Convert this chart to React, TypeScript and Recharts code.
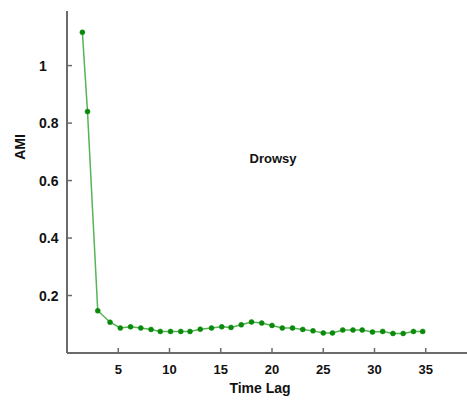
import React from "react";
import { LineChart, Line, XAxis, YAxis } from "recharts";

// time lag (spacing is a bit under 1)
const lags = [
  1.5, 2.0, 3.0, 4.2, 5.2, 6.2, 7.2, 8.2, 9.1, 10.1, 11.1, 12.0, 13.0, 14.1,
  15.1, 16.0, 17.0, 18.0, 19.0, 20.0, 21.0, 22.0, 23.0, 24.0, 25.0, 25.9, 26.9,
  27.9, 28.8, 29.8, 30.8, 31.8, 32.8, 33.8, 34.7,
];

const ami = [
  1.116, 0.84, 0.147, 0.107, 0.087, 0.091, 0.087, 0.082, 0.075, 0.075, 0.075,
  0.075, 0.083, 0.087, 0.091, 0.089, 0.098, 0.108, 0.104, 0.096, 0.087, 0.087,
  0.082, 0.077, 0.07, 0.07, 0.08, 0.08, 0.08, 0.073, 0.075, 0.068, 0.068,
  0.075, 0.075,
];

const xTicks = [5, 10, 15, 20, 25, 30, 35];
const yTicks = [0.2, 0.4, 0.6, 0.8, 1];

const FONT = '"Liberation Sans", Arial, sans-serif';
const AXIS = "#6b6b6b";

const data = lags.map((lag, i) => ({ lag, ami: ami[i] }));

const XTick = (props: any) => {
  const { x, payload } = props;
  return (
    <text
      x={x}
      y={374}
      textAnchor="middle"
      fontFamily={FONT}
      fontWeight="bold"
      fontSize={13}
      fill="#111"
    >
      {payload.value}
    </text>
  );
};

const YTick = (props: any) => {
  const { y, payload } = props;
  return (
    <text
      x={39}
      y={y}
      dy={5}
      textAnchor="start"
      fontFamily={FONT}
      fontWeight="bold"
      fontSize={14}
      fill="#111"
    >
      {payload.value}
    </text>
  );
};

export default function App() {
  return (
    <div
      style={{
        position: "fixed",
        left: 0,
        top: 0,
        width: 467,
        height: 400,
        overflow: "hidden",
        background: "#fff",
      }}
    >
      <LineChart
        width={480}
        height={400}
        data={data}
        margin={{ top: 11, right: 3, left: 0, bottom: 0 }}
      >
        <XAxis
          dataKey="lag"
          type="number"
          domain={[0, 40]}
          ticks={xTicks}
          height={47}
          tickSize={-5}
          tick={<XTick />}
          axisLine={{ stroke: AXIS, strokeWidth: 2 }}
          tickLine={{ stroke: AXIS, strokeWidth: 1.5 }}
        />
        <XAxis
          xAxisId="top"
          orientation="top"
          dataKey="lag"
          type="number"
          domain={[0, 40]}
          ticks={xTicks}
          height={0}
          tickSize={5}
          tick={false}
          axisLine={{ stroke: AXIS, strokeWidth: 2 }}
          tickLine={{ stroke: AXIS, strokeWidth: 1.5 }}
        />
        <YAxis
          type="number"
          domain={[0, 1.19]}
          ticks={yTicks}
          width={67}
          tickSize={-5}
          tick={<YTick />}
          axisLine={{ stroke: AXIS, strokeWidth: 2 }}
          tickLine={{ stroke: AXIS, strokeWidth: 1.5 }}
        />
        <Line
          type="linear"
          dataKey="ami"
          stroke="#55b455"
          strokeWidth={1.5}
          dot={{ r: 2.5, fill: "#0a8a0a", stroke: "#0a8a0a", strokeWidth: 0.5 }}
          isAnimationActive={false}
        />
      </LineChart>
      <svg
        width={467}
        height={400}
        style={{ position: "absolute", left: 0, top: 0, pointerEvents: "none" }}
      >
        <text
          x={260}
          y={393}
          textAnchor="middle"
          fontFamily={FONT}
          fontWeight="bold"
          fontSize={14}
          fill="#111"
        >
          Time Lag
        </text>
        <text
          transform="translate(25,147) rotate(-90)"
          textAnchor="middle"
          fontFamily={FONT}
          fontWeight="bold"
          fontSize={14}
          fill="#111"
        >
          AMI
        </text>
        <text
          x={273}
          y={163}
          textAnchor="middle"
          fontFamily={FONT}
          fontWeight="bold"
          fontSize={13}
          fill="#111"
        >
          Drowsy
        </text>
      </svg>
    </div>
  );
}
